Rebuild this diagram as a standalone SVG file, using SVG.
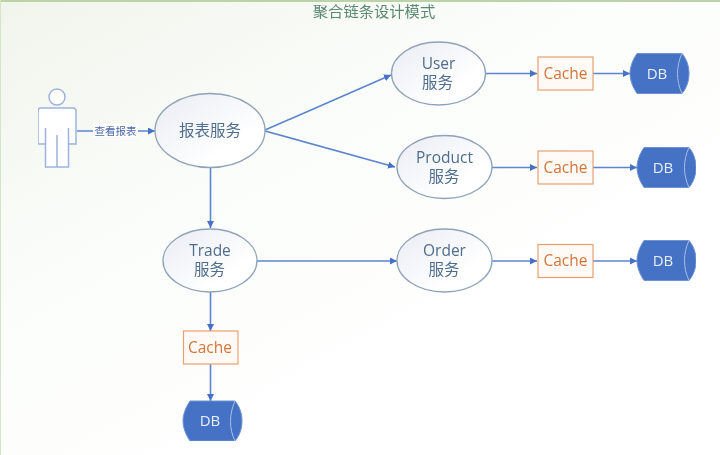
<svg xmlns="http://www.w3.org/2000/svg" width="720" height="455" viewBox="0 0 720 455">
<style>
text{font-family:"Liberation Sans","Noto Sans CJK SC",sans-serif;text-anchor:middle}
.svc{fill:url(#oval);stroke:#8fa3b8;stroke-width:1.3}
.lbl{font-size:15.500px;fill:#4f6d8c;font-family:"Open Sans","Noto Sans CJK SC",sans-serif}
.zh{font-size:15.500px;fill:#4f6d8c;font-family:"Liberation Sans","Noto Sans CJK SC",sans-serif}
.cache{fill:#fffaf6;stroke:#e8a070;stroke-width:1.2}
.ctext{font-size:15.500px;fill:#d2753a;font-family:"Open Sans",sans-serif;font-weight:500}
.db{fill:#4472c4;stroke:#6f92d2;stroke-width:1}
.dbc{fill:none;stroke:#a9bfe6;stroke-width:1}
.dbt{font-size:15px;fill:#e8eefa;font-family:"Open Sans",sans-serif}
.con{fill:none;stroke:#5b84d0;stroke-width:1.6;marker-end:url(#arr)}
.person{fill:#fff;stroke:#9db3de;stroke-width:1.5}
</style>
<defs>
<linearGradient id="bg" x1="0" y1="0" x2="0.7" y2="0.8">
<stop offset="0" stop-color="#f0f5ec"/><stop offset="0.5" stop-color="#fbfdfa"/><stop offset="1" stop-color="#fff"/>
</linearGradient>
<linearGradient id="oval" x1="0" y1="0" x2="1" y2="1">
<stop offset="0" stop-color="#e9ecf4"/><stop offset="0.7" stop-color="#fff"/>
</linearGradient>
<marker id="arr" markerUnits="userSpaceOnUse" markerWidth="9" markerHeight="9" refX="7" refY="3.500" orient="auto"><path d="M0 0L7 3.500L0 7Z" fill="#4472c4"/></marker>
<path id="cyl" d="M7 0H52C57 6 59 13 59 20C59 27 57 34 52 40H7C3 34 0 27 0 20C0 13 3 6 7 0Z"/>
<filter id="soft" x="0" y="0" width="100%" height="100%"><feGaussianBlur stdDeviation="0.400"/></filter>
</defs>
<rect width="720" height="455" fill="url(#bg)"/>
<rect width="720" height="2" fill="#bcd3a8"/>
<rect width="1" height="455" fill="#d5e4c9"/>
<g filter="url(#soft)">
<text id="title" x="374" y="16.500" font-size="15.300" fill="#5c8a72">聚合链条设计模式</text>
<g id="connectors">
<path class="con" d="M77 131H155"/>
<path class="con" d="M265 130L391 75"/>
<path class="con" d="M265 131L395 167"/>
<path class="con" d="M210.500 167V228"/>
<path class="con" d="M486 73.500H537"/>
<path class="con" d="M593 73.500H630"/>
<path class="con" d="M492 167.500H537"/>
<path class="con" d="M593 167.500H637"/>
<path class="con" d="M257 261H397"/>
<path class="con" d="M492 261H537"/>
<path class="con" d="M593 261H637"/>
<path class="con" d="M210.500 292V331"/>
<path class="con" d="M210.500 364V401"/>
</g>
<g id="edge-label"><rect x="93" y="124" width="45" height="13" fill="#fff"/><text x="115.500" y="134.500" font-size="10.500" fill="#4a69a8">查看报表</text></g>
<g id="user">
<circle class="person" cx="57" cy="97" r="8"/>
<path class="person" d="M41 108H73Q76 108 76 111V144H68.500V167H45.500V144H38V111Q38 108 41 108Z"/>
<path class="person" fill="none" d="M45.500 128V144M68.500 128V144M57 135V167"/>
</g>
<g id="report"><ellipse class="svc" cx="210" cy="130.500" rx="55" ry="37"/><text class="zh" x="210" y="136">报表服务</text></g>
<g id="user-svc"><ellipse class="svc" cx="438.500" cy="73.500" rx="47" ry="31.500"/><text class="lbl" x="438.500" y="69">User</text><text class="zh" x="437.500" y="88">服务</text></g>
<g id="product-svc"><ellipse class="svc" cx="444.500" cy="167" rx="47.500" ry="31.500"/><text class="lbl" x="444.500" y="162.500">Product</text><text class="zh" x="444" y="181.500">服务</text></g>
<g id="trade-svc"><ellipse class="svc" cx="210" cy="260.500" rx="47" ry="31.500"/><text class="lbl" x="210" y="256">Trade</text><text class="zh" x="209.500" y="275">服务</text></g>
<g id="order-svc"><ellipse class="svc" cx="444.500" cy="260.500" rx="47.500" ry="31.500"/><text class="lbl" x="444.500" y="256">Order</text><text class="zh" x="444" y="275">服务</text></g>
<g id="cache1"><rect class="cache" x="538" y="57" width="55" height="33"/><text class="ctext" x="565.500" y="78.500">Cache</text></g>
<g id="cache2"><rect class="cache" x="538" y="151" width="55" height="33"/><text class="ctext" x="565.500" y="172.500">Cache</text></g>
<g id="cache3"><rect class="cache" x="538" y="244.500" width="55" height="33"/><text class="ctext" x="565.500" y="266">Cache</text></g>
<g id="cache4"><rect class="cache" x="183.500" y="331" width="54.500" height="33"/><text class="ctext" x="210" y="352.500">Cache</text></g>
<g id="db1"><use href="#cyl" class="db" x="630" y="53.500"/><path class="dbc" d="M682 53.500C676 66 676 81 682 93.500"/><text class="dbt" x="657" y="78.500">DB</text></g>
<g id="db2"><use href="#cyl" class="db" x="637" y="147.500"/><path class="dbc" d="M689 147.500C683 160 683 175 689 187.500"/><text class="dbt" x="663" y="172.500">DB</text></g>
<g id="db3"><use href="#cyl" class="db" x="637" y="240.500"/><path class="dbc" d="M689 240.500C683 253 683 268 689 280.500"/><text class="dbt" x="663" y="265.500">DB</text></g>
<g id="db4"><use href="#cyl" class="db" x="183" y="401"/><path class="dbc" d="M235 401C229 414 229 429 235 441"/><text class="dbt" x="210" y="426">DB</text></g>
</g>
</svg>
